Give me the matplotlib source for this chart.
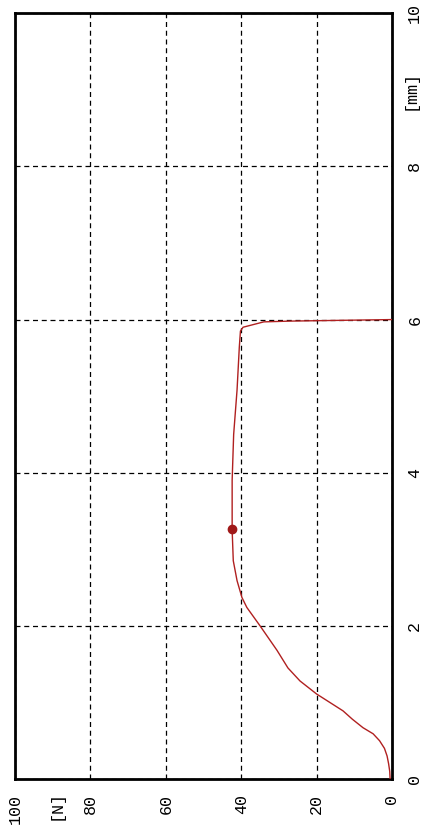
import matplotlib
matplotlib.use("Agg")
import matplotlib.pyplot as plt
from matplotlib.transforms import blended_transform_factory

# force (N) vs displacement (mm) — chart is drawn rotated: N runs right->left, mm bottom->top
disp_mm = [0.0, 0.1, 0.2, 0.3, 0.4, 0.5, 0.59, 0.67, 0.78, 0.89, 1.0, 1.11, 1.28, 1.45,
           1.68, 2.0, 2.24, 2.37, 2.59, 2.85, 3.25, 3.9, 4.5, 5.08, 5.64, 5.85, 5.9,
           5.97, 5.98, 6.0]
force_n = [0.5, 0.6, 0.9, 1.3, 2.0, 3.3, 5.0, 7.7, 10.5, 13.0, 16.5, 20.0, 24.4, 27.6,
           30.5, 35.0, 38.5, 39.8, 41.1, 42.1, 42.4, 42.4, 42.0, 41.1, 40.5, 40.2, 39.5,
           34.0, 27.0, 0.0]
peak_mm, peak_n = 3.27, 42.4

n_ticks = [0, 20, 40, 60, 80, 100]
mm_ticks = [0, 2, 4, 6, 8, 10]

plt.rcParams["font.family"] = ["Liberation Mono", "DejaVu Sans Mono"]

fig = plt.figure(figsize=(4.24, 8.31), dpi=100)
ax = fig.add_axes([0.0354, 0.0626, 0.8891, 0.9214])

ax.plot(force_n, disp_mm, color="#b02020", lw=1.0, zorder=3)
ax.plot([peak_n], [peak_mm], "o", color="#a01818", ms=6, zorder=4)

ax.set_xlim(100, 0)
ax.set_ylim(0, 10)
ax.set_xticks(n_ticks)
ax.set_yticks(mm_ticks)
ax.set_xticklabels([str(t) for t in n_ticks], rotation=90, fontsize=12)
ax.set_yticklabels([str(t) for t in mm_ticks], rotation=90, fontsize=12, va="center")
ax.yaxis.tick_right()
ax.tick_params(length=0, pad=11, axis="x")
ax.tick_params(length=0, pad=11, axis="y")
ax.grid(True, color="black", ls=(0, (4, 3)), lw=0.9)
for s in ax.spines.values():
    s.set_linewidth(2)

tx = blended_transform_factory(ax.transData, ax.transAxes)
ax.text(89, -0.015, "[N]", transform=tx, rotation=90, fontsize=12, ha="center", va="top")
ty = blended_transform_factory(ax.transAxes, ax.transData)
ax.text(1.028, 9.0, "[mm]", transform=ty, rotation=90, fontsize=12, ha="left", va="center")

fig.savefig("out.png", dpi=100, facecolor="white")
